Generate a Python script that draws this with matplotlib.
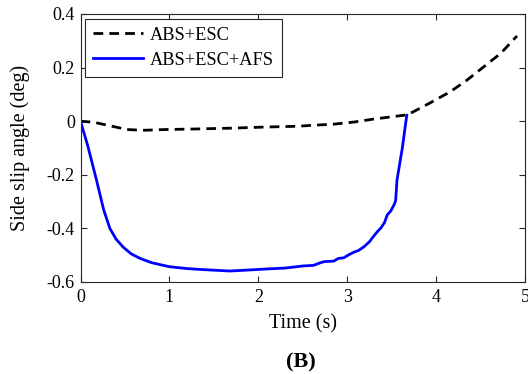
import matplotlib
matplotlib.use('Agg')
import matplotlib.pyplot as plt
import numpy as np

plt.rcParams['font.family'] = ['Liberation Serif', 'DejaVu Serif']

# ABS+ESC (dashed black)
t_esc = [0.0, 0.15, 0.33, 0.52, 0.70, 0.97, 1.3, 1.7, 2.06, 2.43, 2.63, 2.85,
         3.08, 3.30, 3.49, 3.68, 3.92, 4.16, 4.35, 4.54, 4.73, 4.85, 4.91]
y_esc = [0.0, -0.004, -0.017, -0.031, -0.034, -0.031, -0.029, -0.026, -0.022, -0.019, -0.015, -0.011,
         -0.003, 0.008, 0.016, 0.024, 0.066, 0.11, 0.154, 0.204, 0.254, 0.297, 0.318]

# ABS+ESC+AFS (solid blue)
t_afs = [0.0, 0.08, 0.18, 0.26, 0.33, 0.40, 0.48, 0.57, 0.67, 0.80, 1.0, 1.2, 1.34, 1.5, 1.68,
         1.85, 2.06, 2.3, 2.51, 2.62, 2.70, 2.74, 2.85, 2.90, 2.96, 3.02, 3.08, 3.13, 3.19,
         3.25, 3.30, 3.34, 3.38, 3.42, 3.45, 3.49, 3.53, 3.545, 3.56, 3.62, 3.67]
y_afs = [0.0, -0.09, -0.22, -0.33, -0.40, -0.44, -0.47, -0.495, -0.512, -0.528, -0.543, -0.550,
         -0.553, -0.556, -0.559, -0.556, -0.552, -0.548, -0.540, -0.538, -0.528, -0.524, -0.522,
         -0.512, -0.510, -0.498, -0.488, -0.482, -0.468, -0.450, -0.428, -0.412, -0.398, -0.378,
         -0.350, -0.335, -0.310, -0.296, -0.22, -0.10, 0.022]

x_ticks = [0, 1, 2, 3, 4, 5]
y_ticks = [-0.6, -0.4, -0.2, 0, 0.2, 0.4]
y_tick_labels = ['-0.6', '-0.4', '-0.2', '0', '0.2', '0.4']

fig = plt.figure(figsize=(5.28, 3.74), dpi=100)
ax = fig.add_axes([0.1525, 0.246, 0.8418, 0.7166])

ax.plot(t_esc, y_esc, color='black', lw=2.0, ls=(0, (3.5, 2.2)), label='ABS+ESC')
ax.plot(t_afs, y_afs, color='#0000ff', lw=2.0, label='ABS+ESC+AFS')

ax.set_xlim(0, 5)
ax.set_ylim(-0.6, 0.4)
ax.set_xticks(x_ticks)
ax.set_yticks(y_ticks)
ax.set_yticklabels(y_tick_labels)
ax.tick_params(direction='in', top=True, right=True, labelsize=13, length=4,
               width=0.8, color='#262626')
ax.tick_params(axis='x', pad=5)
ax.tick_params(axis='y', pad=4)
for s in ax.spines.values():
    s.set_color('#262626')
    s.set_linewidth(0.8)

ax.set_xlabel('Time (s)', fontsize=14.5, labelpad=6)
ax.set_ylabel('Side slip angle (deg)', fontsize=14.5, labelpad=12)

leg = ax.legend(loc='upper left', fontsize=13.2, frameon=True, fancybox=False,
                edgecolor='#262626', framealpha=1, handlelength=2.7, handletextpad=0.4,
                borderaxespad=0.25, borderpad=0.45, labelspacing=0.42)
leg.get_frame().set_linewidth(0.8)

fig.text(0.570, 0.03, '(B)', fontsize=16, fontweight='bold', ha='center', va='center')

fig.savefig('out.png', dpi=100)
